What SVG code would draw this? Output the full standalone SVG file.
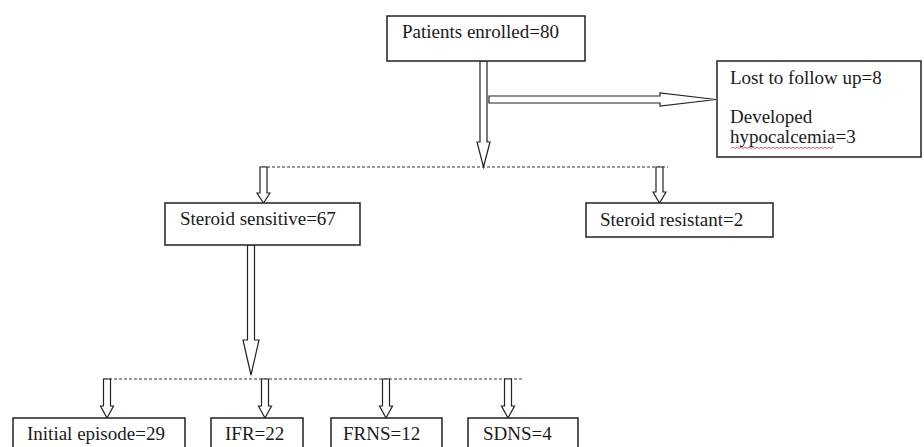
<svg xmlns="http://www.w3.org/2000/svg" width="924" height="447" viewBox="0 0 924 447">
<style>
.box{fill:#fff;stroke:#222;stroke-width:1.5}
.arr{fill:#fff;stroke:#222;stroke-width:1.2;stroke-linejoin:miter}
.dash{fill:none;stroke:#333;stroke-width:1;stroke-dasharray:3 2}
.t{font-family:"Liberation Serif","Times New Roman",serif;font-size:19px;fill:#1a1a1a}
</style>
<rect width="924" height="447" fill="#fff"/>
<g id="connectors">
<polygon class="arr" points="480,61 487,61 487,142 490,142 483.5,167 477,142 480,142"/>
<polygon class="arr" points="489,96 660,96 660,93 716,99.5 660,106 660,103 489,103"/>
<line class="dash" x1="262" y1="167" x2="668" y2="167"/>
<polygon class="arr" points="260,167 267,167 267,193 270,193 263.5,203 257,193 260,193"/>
<polygon class="arr" points="656,167 663,167 663,192 666,192 659.5,203 653,192 656,192"/>
<polygon class="arr" points="247.5,245 254.5,245 254.5,340 259,340 251,375 243,340 247.5,340"/>
<line class="dash" x1="104" y1="379" x2="523" y2="379"/>
<polygon class="arr" points="103.5,379 110.5,379 110.5,406 113.5,406 107,418 100.5,406 103.5,406"/>
<polygon class="arr" points="261.5,379 268.5,379 268.5,406 271.5,406 265,418 258.5,406 261.5,406"/>
<polygon class="arr" points="382.5,379 389.5,379 389.5,406 392.5,406 386,418 379.5,406 382.5,406"/>
<polygon class="arr" points="504.5,379 511.5,379 511.5,406 514.5,406 508,418 501.5,406 504.5,406"/>
</g>
<g id="n-enrolled">
<rect class="box" x="387" y="16" width="198" height="45"/>
<text class="t" x="402" y="38">Patients enrolled=80</text>
</g>
<g id="n-lost">
<rect class="box" x="717" y="61" width="204" height="96"/>
<text class="t" x="730" y="84">Lost to follow up=8</text>
<text class="t" x="730" y="123">Developed</text>
<text class="t" x="730" y="143">hypocalcemia=3</text>
<path d="M731,148.5 l2,-1.5 l2,1.5 l2,-1.5 l2,1.5 l2,-1.5 l2,1.5 l2,-1.5 l2,1.5 l2,-1.5 l2,1.5 l2,-1.5 l2,1.5 l2,-1.5 l2,1.5 l2,-1.5 l2,1.5 l2,-1.5 l2,1.5 l2,-1.5 l2,1.5 l2,-1.5 l2,1.5 l2,-1.5 l2,1.5 l2,-1.5 l2,1.5 l2,-1.5 l2,1.5 l2,-1.5 l2,1.5 l2,-1.5 l2,1.5 l2,-1.5 l2,1.5 l2,-1.5 l2,1.5 l2,-1.5 l2,1.5 l2,-1.5 l2,1.5 l2,-1.5 l2,1.5 l2,-1.5 l2,1.5 l2,-1.5 l2,1.5 l2,-1.5 l2,1.5 l2,-1.5 l2,1.5 l2,-1.5" fill="none" stroke="#d33" stroke-width="0.8"/>
</g>
<g id="n-sensitive">
<rect class="box" x="165" y="203" width="195" height="42"/>
<text class="t" x="180" y="225">Steroid sensitive=67</text>
</g>
<g id="n-resistant">
<rect class="box" x="586" y="203" width="187" height="34"/>
<text class="t" x="600" y="226">Steroid resistant=2</text>
</g>
<g id="n-initial">
<rect class="box" x="13" y="418" width="172" height="40"/>
<text class="t" x="27" y="440">Initial episode=29</text>
</g>
<g id="n-ifr">
<rect class="box" x="211" y="418" width="92" height="40"/>
<text class="t" x="225" y="440">IFR=22</text>
</g>
<g id="n-frns">
<rect class="box" x="331" y="418" width="111" height="40"/>
<text class="t" x="343" y="440">FRNS=12</text>
</g>
<g id="n-sdns">
<rect class="box" x="468" y="418" width="110" height="40"/>
<text class="t" x="483" y="440">SDNS=4</text>
</g>
</svg>
